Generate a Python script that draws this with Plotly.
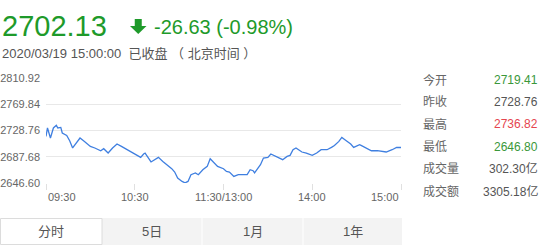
import plotly.graph_objects as go

# ---- data -------------------------------------------------------------
# intraday index level, sampled by trading minute (0 = 09:30, 120 = 11:30/13:00, 240 = 15:00)
minutes = [
    0, 1, 3, 5, 7, 8, 10, 11, 14, 16,
    18, 21, 23, 26, 30, 33, 37, 39, 42, 45,
    48, 51, 55, 57, 60, 64, 66, 67, 71, 74,
    76, 79, 82, 85, 87, 89, 92, 94, 96, 98,
    101, 103, 106, 109, 111, 114, 116, 120, 122, 124,
    127, 130, 133, 136, 138, 140, 141, 145, 147, 150,
    152, 155, 158, 160, 163, 165, 167, 169, 173, 176,
    180, 183, 186, 190, 193, 195, 198, 200, 203, 206,
    208, 212, 213, 216, 220, 224, 227, 230, 234, 237,
    240,
]
levels = [
    2719.41, 2732.7, 2717.0, 2732.7, 2736.82, 2732.7, 2733.6, 2724.9, 2721.1, 2712.8,
    2701.4, 2710.8, 2717.0, 2711.7, 2703.9, 2701.4, 2697.1, 2700.3, 2693.5, 2701.4,
    2707.6, 2703.9, 2698.7, 2695.1, 2690.9, 2686.7, 2692.0, 2693.5, 2679.5, 2683.1,
    2686.7, 2680.4, 2675.2, 2669.0, 2663.8, 2654.4, 2649.1, 2646.80, 2649.1, 2659.6,
    2662.3, 2659.6, 2667.4, 2672.6, 2684.6, 2677.9, 2672.6, 2669.0, 2664.8, 2663.8,
    2656.9, 2659.6, 2659.6, 2659.9, 2667.4, 2665.8, 2662.3, 2675.2, 2685.7, 2686.7,
    2692.0, 2688.2, 2685.7, 2683.1, 2688.2, 2689.8, 2698.7, 2701.4, 2695.1, 2693.5,
    2689.8, 2693.5, 2698.7, 2698.7, 2702.3, 2705.4, 2711.7, 2718.0, 2712.8, 2707.6,
    2702.3, 2706.5, 2705.4, 2701.4, 2697.1, 2697.1, 2696.1, 2695.1, 2698.7, 2702.3,
    2702.13,
]
prev_close = 2728.76
y_ticks = [2646.60, 2687.68, 2728.76, 2769.84, 2810.92]
x_ticks = [0, 60, 120, 180, 240]
x_tick_labels = ["09:30", "10:30", "11:30/13:00", "14:00", "15:00"]
timestamp = "2020/03/19 15:00:00"
status_text = "已收盘 （ 北京时间 ）"
stat_names = ["今开", "昨收", "最高", "最低", "成交量", "成交额"]
volume_text = "302.30亿"
turnover_text = "3305.18亿"
range_buttons = ["分时", "5日", "1月", "1年"]

# ---- derived figures --------------------------------------------------
last = levels[-1]
change = last - prev_close
change_pct = change / prev_close * 100
open_, high, low = levels[0], max(levels), min(levels)
stat_values = [open_, prev_close, high, low, None, None]
stat_texts = [f"{v:.2f}" for v in stat_values[:4]] + [volume_text, turnover_text]

# ---- styling ----------------------------------------------------------
W, H = 546, 247
L, R, T, B = 46, 145, 78, 64
PW, PH = W - L - R, H - T - B
FONT = "Liberation Sans, Arial, Noto Sans CJK SC, sans-serif"
UP, DOWN, HEAD_GREEN = "#e5454f", "#3a973a", "#1e9a2a"
GREY_TXT = "#555555"


def px(x):
    return (x - L) / PW


def py(y):
    return (H - B - y) / PH


def stat_color(v):
    if v is None or abs(v - prev_close) < 1e-9:
        return GREY_TXT
    return UP if v > prev_close else DOWN


fig = go.Figure()
fig.add_trace(go.Scatter(
    x=minutes, y=levels, mode="lines",
    line=dict(color="#3f7fe0", width=1.3),
    hoverinfo="skip", showlegend=False,
))

shapes = [
    # previous close reference
    dict(type="line", xref="x", yref="y", x0=x_ticks[0], x1=x_ticks[-1],
         y0=prev_close, y1=prev_close, line=dict(color="#4caf50", width=1), layer="below"),
]

# down arrow next to the change figure
ax = [130.0, 146.5]
amid = (ax[0] + ax[1]) / 2
arrow = [(amid - 3.5, 19), (amid + 3.5, 19), (amid + 3.5, 26), (ax[1], 26),
         (amid, 34), (ax[0], 26), (amid - 3.5, 26)]
path = "M " + " L ".join(f"{px(x):.5f},{py(y):.5f}" for x, y in arrow) + " Z"
shapes.append(dict(type="path", xref="paper", yref="paper", path=path,
                   fillcolor=HEAD_GREEN, line=dict(width=0)))

# period selector
btn_edges = [0.5, 102, 202, 303, 402]
btn_top, btn_bot = 218, 245
shapes.append(dict(type="rect", xref="paper", yref="paper",
                   x0=px(btn_edges[1]), x1=px(btn_edges[-1]), y0=py(btn_bot), y1=py(btn_top),
                   fillcolor="#f3f3f3", line=dict(width=0)))
for e in btn_edges[2:-1]:
    shapes.append(dict(type="line", xref="paper", yref="paper",
                       x0=px(e), x1=px(e), y0=py(btn_bot), y1=py(btn_top),
                       line=dict(color="#ffffff", width=1)))
shapes.append(dict(type="rect", xref="paper", yref="paper",
                   x0=px(btn_edges[0]), x1=px(btn_edges[1]), y0=py(btn_bot - 0.5), y1=py(btn_top + 0.5),
                   fillcolor="#ffffff", line=dict(color="#dcdcdc", width=1)))

ann = []


def text(x, y, s, size, color, anchor="left"):
    ann.append(dict(xref="paper", yref="paper", x=px(x), y=py(y), text=s,
                    showarrow=False, xanchor=anchor, yanchor="middle",
                    font=dict(size=size, color=color, family=FONT)))


# header
text(0, 26, f"{last:.2f}", 29, HEAD_GREEN)
text(152, 27, f"{change:.2f} ({change_pct:.2f}%)", 20, HEAD_GREEN)
text(0, 53, f"{timestamp}  {status_text}", 13, GREY_TXT)

# x axis labels
for i, (v, lab) in enumerate(zip(x_ticks, x_tick_labels)):
    anchor = "left" if i == 0 else ("right" if i == len(x_ticks) - 1 else "center")
    ann.append(dict(xref="x", yref="paper", x=v, y=py(197), text=lab, showarrow=False,
                    xanchor=anchor, yanchor="middle",
                    font=dict(size=11, color="#666666", family=FONT)))

# stats panel
for i, (name, val, s) in enumerate(zip(stat_names, stat_values, stat_texts)):
    yy = 80 + i * 22.2
    text(421, yy, name, 12, "#666666")
    text(540, yy, s, 12, stat_color(val), anchor="right")

# period selector labels
for lab, a, b in zip(range_buttons, btn_edges[:-1], btn_edges[1:]):
    text((a + b) / 2, 231.5, lab, 13, GREY_TXT, anchor="center")

fig.update_layout(
    width=W, height=H,
    margin=dict(l=L, r=R, t=T, b=B, pad=0, autoexpand=False),
    paper_bgcolor="#ffffff", plot_bgcolor="#ffffff",
    font=dict(family=FONT, size=11, color="#666666"),
    showlegend=False,
    shapes=shapes,
    annotations=ann,
    xaxis=dict(range=[x_ticks[0], x_ticks[-1]], tickvals=x_ticks, showticklabels=False,
               ticks="outside", ticklen=6, tickcolor="#e0e0e0", tickwidth=1,
               showgrid=False, zeroline=False, showline=False, fixedrange=True,
               automargin=False),
    yaxis=dict(range=[y_ticks[0], y_ticks[-1]], tickvals=y_ticks,
               ticktext=[f"{v:.2f}" for v in y_ticks],
               ticks="", ticklabelstandoff=5, showgrid=True, gridcolor="#e8e8e8",
               gridwidth=1, zeroline=False, showline=False, fixedrange=True,
               automargin=False,
               tickfont=dict(size=11, color="#666666", family=FONT)),
)

fig.write_html("out.html", config=dict(displayModeBar=False))
